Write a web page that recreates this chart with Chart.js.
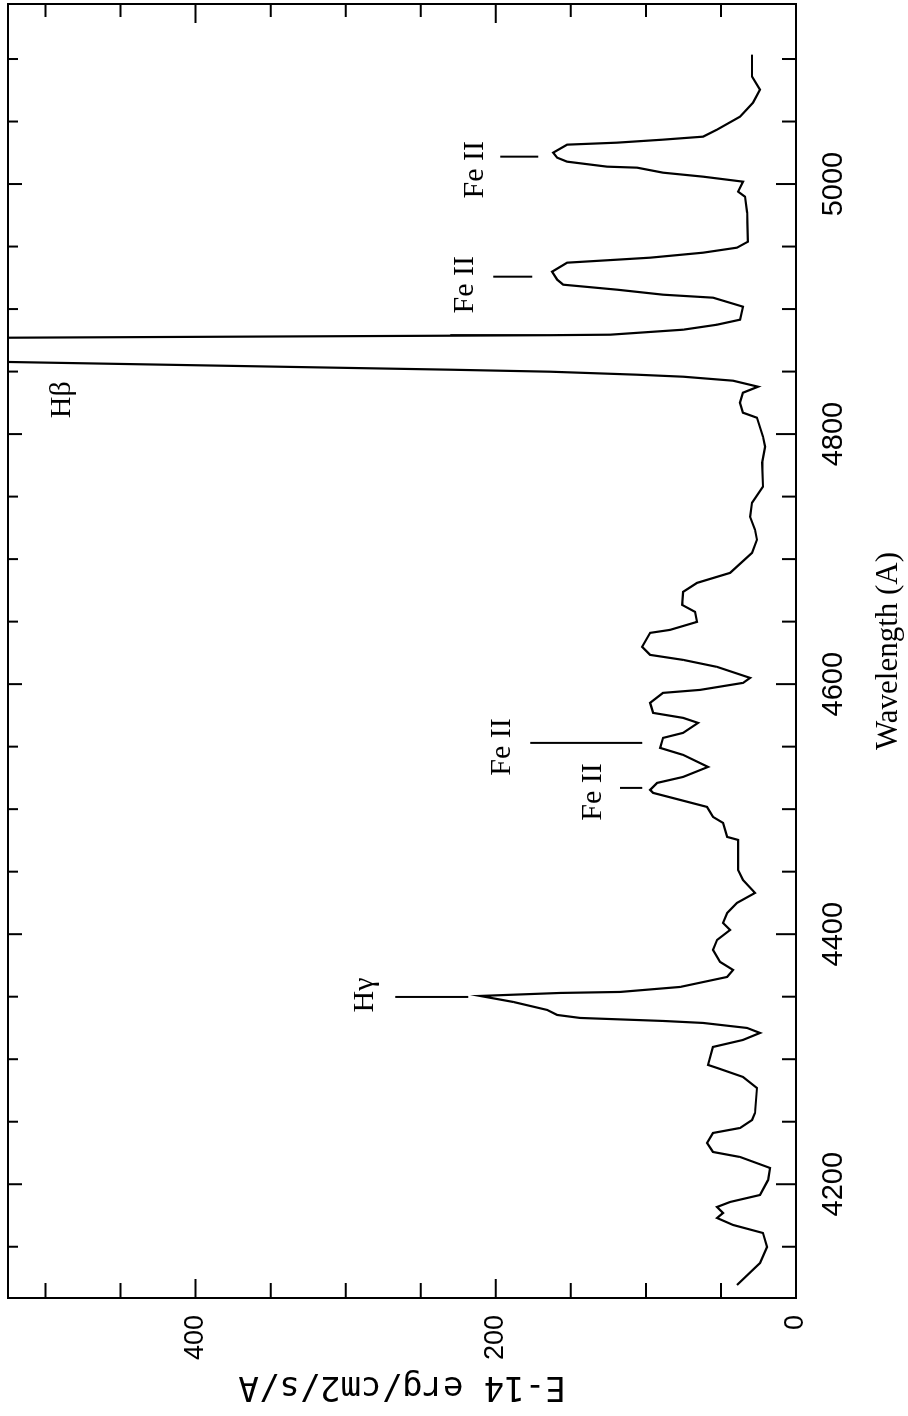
<!DOCTYPE html>
<html><head><meta charset="utf-8">
<script src="https://cdn.jsdelivr.net/npm/chart.js@4.4.1/dist/chart.umd.min.js"></script>
<style>
html,body{margin:0;padding:0;background:#fff;overflow:hidden;width:908px;height:1416px;}
#wrap{position:absolute;left:0;top:0;width:1416px;height:908px;transform-origin:0 0;transform:translate(0,1416px) rotate(-90deg);background:#fff;}
</style></head><body>
<div id="wrap"><canvas id="c" width="1416" height="908"></canvas></div>
<script>
// Spectrum: wavelength (Angstrom) and flux (E-14 erg/cm2/s/A)
const wavelengths = [4119.4,4137.0,4149.8,4161.0,4167.4,4173.0,4177.0,4181.8,4185.8,4191.4,
4203.4,4213.0,4221.8,4225.8,4233.0,4241.0,4245.0,4251.4,4257.0,4277.0,
4285.8,4293.0,4295.4,4309.8,4315.4,4321.0,4325.0,4329.0,4330.6,4333.0,
4335.4,4339.4,4345.8,4350.6,4353.0,4353.8,4357.8,4365.8,4371.4,4377.8,
4387.4,4395.4,4403.4,4409.0,4417.0,4425.0,4433.0,4443.4,4451.4,4475.4,
4477.8,4489.0,4493.8,4501.8,4507.4,4513.0,4515.4,4521.0,4525.8,4533.8,
4543.4,4549.0,4557.0,4561.0,4569.0,4573.0,4577.0,4585.0,4593.0,4595.4,
4601.0,4605.0,4613.8,4619.4,4623.4,4629.8,4641.0,4643.4,4649.8,4657.8,
4663.4,4673.8,4681.0,4689.0,4705.0,4715.5,4723.5,4733.9,4745.1,4757.9,
4777.1,4789.9,4797.9,4813.1,4817.1,4825.1,4833.1,4837.9,4842.7,4845.9,
4847.5,4849.9,4851.5,4858.0,4866.0,4877.0,
4878.7,4879.1,4879.5,4883.5,4887.5,4891.5,4901.9,4909.1,4911.5,4915.5,
4919.5,4923.5,4929.9,4937.1,4939.5,4941.1,4945.1,4949.1,4953.9,4977.1,
4989.9,4993.9,5001.9,5005.9,5009.1,5013.1,5013.9,5017.9,5021.1,5025.1,
5031.5,5033.1,5035.5,5037.9,5043.5,5053.9,5065.1,5075.5,5085.9,5103.5];
const fluxes = [39.3,24.0,19.3,22.0,41.9,52.6,48.6,52.6,43.9,24.0,
18.6,17.3,37.3,55.3,59.3,55.3,37.3,29.3,27.3,26.0,
35.3,52.6,58.6,55.3,35.3,24.0,32.6,61.9,88.6,143.8,
159.1,165.8,188.4,210.4,157.1,117.2,77.2,45.9,41.9,50.6,
55.3,52.6,43.9,48.6,45.9,39.3,27.3,35.3,38.6,38.6,
45.9,48.6,55.3,59.3,77.2,95.2,97.2,92.5,75.2,58.6,
75.2,90.5,88.6,75.2,65.2,75.2,95.2,97.2,88.6,63.9,
35.3,30.6,52.6,75.2,97.2,102.5,97.2,83.9,65.9,67.2,
75.9,75.2,65.9,43.9,29.3,26.0,27.3,30.6,29.3,22.0,
22.6,20.6,22.0,26.0,35.3,37.3,35.3,25.3,41.9,75.2,
105.9,163.8,230.4,540,1100,540,
230.4,163.8,123.8,75.2,52.6,37.3,35.3,55.3,88.6,119.2,
155.1,159.1,162.5,152.5,119.2,97.2,61.9,39.3,32.0,32.6,
34.0,38.6,35.3,61.9,88.6,105.9,125.8,152.5,159.1,161.8,
152.5,119.2,88.6,61.9,52.6,37.3,28.6,24.0,29.3,29.3];

// Axis ranges and tick labels
const xMin = 4109, xMax = 5144, xStep = 50;
const xLabelled = [4200, 4400, 4600, 4800, 5000];
const yMin = 0, yMax = 525, yStep = 50;
const yLabelled = [0, 200, 400];
const xTitle = 'Wavelength (A)';
const yTitle = 'E-14 erg/cm2/s/A';

// Line identifications
const labelTexts = ['H\u03B2', 'H\u03B3', 'Fe II', 'Fe II', 'Fe II', 'Fe II'];
const labelWavelengths = [4827.5, 4351.4, 5011.5, 4919.5, 4549.8, 4513.8];
const labelFluxes = [488.7, 287.0, 213.7, 220.4, 195.7, 135.2];
const markerWavelengths = [4349.8, 5021.9, 4925.9, 4553.0, 4517.0];
const markerFluxTop = [267.0, 197.0, 201.7, 177.1, 117.2];
const markerFluxBottom = [218.4, 171.8, 175.8, 102.5, 102.5];

const points = wavelengths.map((w, i) => ({x: w, y: fluxes[i]}));

const framePlugin = {
  id: 'frame',
  afterDatasetsDraw(chart) {
    const ctx = chart.ctx, a = chart.chartArea, xs = chart.scales.x, ys = chart.scales.y;
    ctx.save();
    ctx.strokeStyle = '#000';
    ctx.lineWidth = 2;
    ctx.strokeRect(a.left, a.top, a.right - a.left, a.bottom - a.top);
    ctx.beginPath();
    xs.ticks.forEach(t => {
      const p = xs.getPixelForValue(t.value);
      const major = xLabelled.includes(t.value);
      ctx.moveTo(p, a.bottom); ctx.lineTo(p, a.bottom - (major ? 20 : 14));
      ctx.moveTo(p, a.top); ctx.lineTo(p, a.top + (major ? 14 : 10));
    });
    ys.ticks.forEach(t => {
      const p = ys.getPixelForValue(t.value);
      const major = yLabelled.includes(t.value);
      ctx.moveTo(a.left, p); ctx.lineTo(a.left + (major ? 19 : 15), p);
      ctx.moveTo(a.right, p); ctx.lineTo(a.right - (major ? 19 : 13), p);
    });
    ctx.stroke();
    // marker lines
    ctx.beginPath();
    markerWavelengths.forEach((w, i) => {
      const px = xs.getPixelForValue(w);
      ctx.moveTo(px, ys.getPixelForValue(markerFluxTop[i]));
      ctx.lineTo(px, ys.getPixelForValue(markerFluxBottom[i]));
    });
    ctx.stroke();
    // labels
    ctx.fillStyle = '#000';
    ctx.font = '30px "Liberation Serif", serif';
    ctx.textAlign = 'center';
    ctx.textBaseline = 'middle';
    labelTexts.forEach((txt, i) => {
      ctx.fillText(txt, xs.getPixelForValue(labelWavelengths[i]), ys.getPixelForValue(labelFluxes[i]));
    });
    ctx.restore();
  }
};

new Chart(document.getElementById('c'), {
  type: 'line',
  data: {datasets: [{data: points, borderColor: '#000', borderWidth: 2.2, pointRadius: 0, tension: 0, fill: false}]},
  options: {
    responsive: false, animation: false, devicePixelRatio: 1,
    layout: {padding: {top: 8, right: 4, left: 0, bottom: 0}},
    plugins: {legend: {display: false}, tooltip: {enabled: false}},
    scales: {
      x: {
        type: 'linear', position: 'bottom', min: xMin, max: xMax,
        grid: {display: false, drawTicks: false}, border: {display: false},
        ticks: {stepSize: xStep, includeBounds: false, autoSkip: false, maxRotation: 0, padding: 21,
          color: '#000', font: {family: '"Liberation Sans", Arial, sans-serif', size: 29},
          callback: v => xLabelled.includes(v) ? String(v) : ''},
        title: {display: true, text: xTitle, color: '#000', padding: {top: 0, bottom: 1},
          font: {family: '"Liberation Serif", serif', size: 31}},
        afterFit: s => { s.height = 112; s.paddingLeft = 0; s.paddingRight = 0; }
      },
      y: {
        type: 'linear', position: 'left', min: yMin, max: yMax,
        grid: {display: false, drawTicks: false}, border: {display: false},
        ticks: {stepSize: yStep, includeBounds: false, autoSkip: false, padding: 17,
          color: '#000', font: {family: '"Liberation Sans", Arial, sans-serif', size: 27},
          callback: v => yLabelled.includes(v) ? String(v) : ''},
        title: {display: true, text: yTitle, color: '#000', padding: {top: 10, bottom: 0},
          font: {family: '"DejaVu Sans Mono", monospace', size: 34}},
        afterFit: s => { s.width = 118; s.paddingTop = 0; s.paddingBottom = 0; }
      }
    }
  },
  plugins: [framePlugin]
});
</script></body></html>
